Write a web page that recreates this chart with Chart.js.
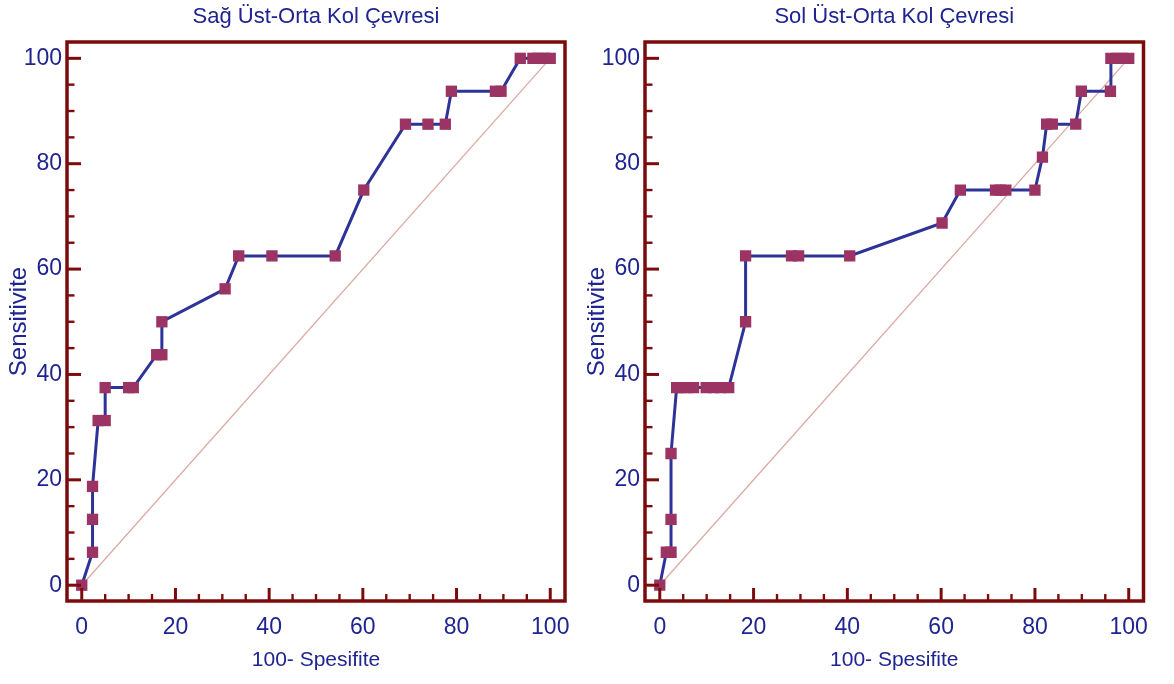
<!DOCTYPE html>
<html>
<head>
<meta charset="utf-8">
<title>ROC – Üst-Orta Kol Çevresi</title>
<script src="https://cdn.jsdelivr.net/npm/chart.js@4.4.1/dist/chart.umd.min.js"></script>
<style>
  html, body { margin: 0; padding: 0; background: #ffffff; overflow: hidden; width: 1174px; height: 684px; }
  .panel { position: absolute; top: 0; height: 684px; }
  #sagPanel { left: 0; width: 575px; }
  #solPanel { left: 575px; width: 599px; }
  canvas { display: block; }
</style>
</head>
<body>
<div class="panel" id="sagPanel"><canvas id="sagChart" width="575" height="684"></canvas></div>
<div class="panel" id="solPanel"><canvas id="solChart" width="599" height="684"></canvas></div>
<script>
// Axis tick labels (both axes) and the minor tick positions between them
const tickValues = [0, 20, 40, 60, 80, 100];
const minorTickValues = [5, 10, 15, 25, 30, 35, 45, 50, 55, 65, 70, 75, 85, 90, 95];

// Sağ üst-orta kol çevresi: 100 - specificity (x) and sensitivity (y)
const sagFalsePositive = [0, 2.3, 2.3, 2.3, 3.5, 5.0, 5.0, 10.0, 11.0, 16.0, 17.1, 17.1, 30.6, 33.5, 40.6, 54.1, 60.2, 69.1, 73.9, 77.6, 78.9, 88.3, 89.5, 93.6, 96.3, 97.4, 98.7, 100];
const sagSensitivity   = [0, 6.25, 12.5, 18.75, 31.25, 31.25, 37.5, 37.5, 37.5, 43.75, 43.75, 50, 56.25, 62.5, 62.5, 62.5, 75, 87.5, 87.5, 87.5, 93.75, 93.75, 93.75, 100, 100, 100, 100, 100];

// Sol üst-orta kol çevresi
const solFalsePositive = [0, 1.4, 2.4, 2.4, 2.4, 3.6, 4.5, 5.8, 7.2, 9.9, 11.5, 13.0, 14.7, 18.3, 18.3, 28.1, 29.6, 40.5, 60.2, 64.1, 71.6, 72.6, 73.8, 80.0, 81.6, 82.5, 83.7, 88.7, 89.9, 96.1, 96.2, 97.5, 98.7, 100];
const solSensitivity   = [0, 6.25, 6.25, 12.5, 25, 37.5, 37.5, 37.5, 37.5, 37.5, 37.5, 37.5, 37.5, 50, 62.5, 62.5, 62.5, 62.5, 68.75, 75, 75, 75, 75, 75, 81.25, 87.5, 87.5, 87.5, 93.75, 93.75, 100, 100, 100, 100];

// Reference (chance) line
const chanceLine = [0, 100];

const textColor = '#1f2490';
const curveColor = '#2e3398';
const markerColor = '#9b3363';
const frameColor = '#7c0b0b';
const chanceColor = '#dcaaa2';
const sansFamily = '"Liberation Sans", Arial, sans-serif';

Chart.defaults.font.family = sansFamily;
Chart.defaults.color = textColor;

// Boxed plot frame with inward-pointing major / minor ticks
const frameAndTicks = {
  id: 'frameAndTicks',
  afterDraw(chart) {
    const { ctx, chartArea: a, scales: { x, y } } = chart;
    ctx.save();
    ctx.strokeStyle = frameColor;
    ctx.lineCap = 'butt';
    const drawTick = (v, major) => {
      ctx.lineWidth = major ? 3 : 2.4;
      const px = x.getPixelForValue(v);
      ctx.beginPath();
      ctx.moveTo(px, a.bottom);
      ctx.lineTo(px, a.bottom - (major ? 13 : 7));
      ctx.stroke();
      const py = y.getPixelForValue(v);
      ctx.beginPath();
      ctx.moveTo(a.left, py);
      ctx.lineTo(a.left + (major ? 14 : 7.5), py);
      ctx.stroke();
    };
    tickValues.forEach(v => drawTick(v, true));
    minorTickValues.forEach(v => drawTick(v, false));
    ctx.lineWidth = 3.5;
    ctx.strokeRect(a.left, a.top, a.right - a.left, a.bottom - a.top);
    ctx.restore();
  }
};

function toPoints(xs, ys) {
  return xs.map((v, i) => ({ x: v, y: ys[i] }));
}

function buildChart(canvasId, titleText, xs, ys, yAxisWidth, rightPad, yTitlePad) {
  return new Chart(document.getElementById(canvasId), {
    type: 'line',
    data: {
      datasets: [
        {
          data: toPoints(xs, ys),
          borderColor: curveColor,
          borderWidth: 3,
          pointStyle: 'rect',
          pointRadius: 8,
          pointBackgroundColor: markerColor,
          pointBorderColor: markerColor,
          pointBorderWidth: 0,
          tension: 0,
          order: 0
        },
        {
          data: toPoints(chanceLine, chanceLine),
          borderColor: chanceColor,
          borderWidth: 1.3,
          pointRadius: 0,
          order: 1
        }
      ]
    },
    options: {
      responsive: false,
      animation: false,
      devicePixelRatio: 1,
      layout: { padding: { left: 0, right: rightPad, top: 0, bottom: 0 } },
      plugins: {
        legend: { display: false },
        tooltip: { enabled: false },
        title: {
          display: true,
          text: titleText,
          color: textColor,
          fullSize: false,
          font: { size: 22, weight: 'normal', family: sansFamily },
          padding: { top: 4, bottom: 11.6 }
        }
      },
      scales: {
        x: {
          type: 'linear',
          min: -3.15,
          max: 103.15,
          afterBuildTicks: s => { s.ticks = tickValues.map(v => ({ value: v })); },
          afterFit: s => { s.height = 83; s.paddingLeft = 0; s.paddingRight = 0; },
          grid: { display: false, drawTicks: false },
          border: { display: false },
          ticks: { padding: 13, color: textColor, font: { size: 23, family: sansFamily }, maxRotation: 0 },
          title: {
            display: true,
            text: '100- Spesifite',
            color: textColor,
            font: { size: 21, family: sansFamily },
            padding: { top: 0, bottom: 11 }
          }
        },
        y: {
          type: 'linear',
          min: -3,
          max: 103.1,
          afterBuildTicks: s => { s.ticks = tickValues.map(v => ({ value: v })); },
          afterFit: s => { s.width = yAxisWidth; s.paddingTop = 0; s.paddingBottom = 0; },
          grid: { display: false, drawTicks: false },
          border: { display: false },
          ticks: { padding: 5, color: textColor, font: { size: 23, family: sansFamily } },
          title: {
            display: true,
            text: 'Sensitivite',
            color: textColor,
            font: { size: 24, family: sansFamily },
            padding: { top: yTitlePad, bottom: 0 }
          }
        }
      }
    },
    plugins: [frameAndTicks]
  });
}

buildChart('sagChart', 'Sağ Üst-Orta Kol Çevresi', sagFalsePositive, sagSensitivity, 67, 10, 5.1);
buildChart('solChart', 'Sol Üst-Orta Kol Çevresi', solFalsePositive, solSensitivity, 70, 30.5, 8.1);
</script>
</body>
</html>
